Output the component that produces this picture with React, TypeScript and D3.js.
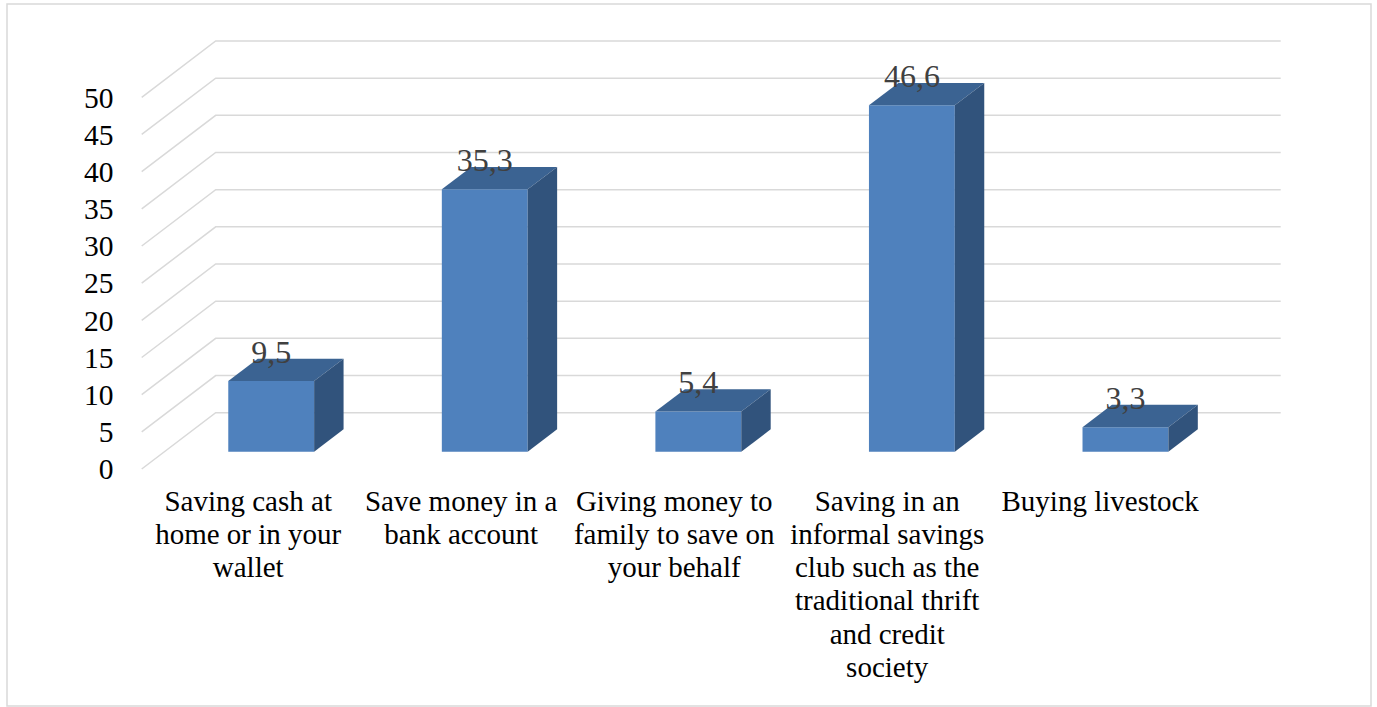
import React from "react";
import * as d3 from "d3";

const categories: string[] = [
  "Saving cash at home or in your wallet",
  "Save money in a bank account",
  "Giving money to family to save on your behalf",
  "Saving in an informal savings club such as the traditional thrift and credit society",
  "Buying livestock",
];
const categoryLines: string[][] = [
  ["Saving cash at", "home or in your", "wallet"],
  ["Save money in a", "bank account"],
  ["Giving money to", "family to save on", "your behalf"],
  ["Saving in an", "informal savings", "club such as the", "traditional thrift", "and credit", "society"],
  ["Buying livestock"],
];
const values: number[] = [9.5, 35.3, 5.4, 46.6, 3.3];
const valueLabels: string[] = ["9,5", "35,3", "5,4", "46,6", "3,3"];
const yTicks: number[] = [0, 5, 10, 15, 20, 25, 30, 35, 40, 45, 50];

const W = 1377;
const H = 707;
const FRONT_LEFT = 141.7;
const FRONT_RIGHT = 1209.5;
const GRID_RIGHT = 1206.7;
const DX = 74;
const DY = 56.3;
const F1 = 0.307;
const F2 = 0.705;
const FONT = "'Liberation Serif', 'Times New Roman', serif";

export default function App() {
  const y = d3.scaleLinear().domain([0, 50]).range([469, 97.3]);
  const xBar = d3
    .scaleBand<string>()
    .domain(categories)
    .range([FRONT_LEFT, FRONT_RIGHT])
    .paddingInner(0.598)
    .paddingOuter(0.299);
  const xCat = d3.scaleBand<string>().domain(categories).range([FRONT_LEFT, GRID_RIGHT]);

  const proj = (x: number, v: number, f: number): [number, number] => [x + f * DX, y(v) - f * DY];
  const line = d3.line();

  return (
    <svg
      width={W}
      height={H}
      style={{ position: "absolute", left: 0, top: 0, background: "#fff" }}
      fontFamily={FONT}
    >
      <rect x={7} y={4} width={1364} height={702} fill="#fff" stroke="#d9d9d9" strokeWidth={1.5} />
      {yTicks.map((t) => (
        <path
          key={"g" + t}
          d={line([proj(FRONT_LEFT, t, 0), proj(FRONT_LEFT, t, 1), proj(GRID_RIGHT, t, 1)]) || ""}
          fill="none"
          stroke="#d9d9d9"
          strokeWidth={1.5}
        />
      ))}
      {categories.map((c, i) => {
        const x0 = xBar(c)!;
        const x1 = x0 + xBar.bandwidth();
        const v = values[i];
        const front = [proj(x0, 0, F1), proj(x1, 0, F1), proj(x1, v, F1), proj(x0, v, F1)];
        const top = [proj(x0, v, F1), proj(x1, v, F1), proj(x1, v, F2), proj(x0, v, F2)];
        const side = [proj(x1, 0, F1), proj(x1, 0, F2), proj(x1, v, F2), proj(x1, v, F1)];
        const poly = (pts: [number, number][]) => (line(pts) || "") + "Z";
        const [cx] = proj((x0 + x1) / 2, v, F1);
        const [, ty] = proj(x0, v, F2);
        return (
          <g key={"b" + i}>
            <path d={poly(front as [number, number][])} fill="#4f81bd" />
            <path d={poly(top as [number, number][])} fill="#3b6392" />
            <path d={poly(side as [number, number][])} fill="#31537c" />
            <text x={cx} y={ty + 4} textAnchor="middle" fontSize={32} fill="#404040">
              {valueLabels[i]}
            </text>
          </g>
        );
      })}
      {yTicks.map((t) => (
        <text
          key={"t" + t}
          x={113.5}
          y={y(t)}
          dy="0.35em"
          textAnchor="end"
          fontSize={29.5}
          fill="#000"
        >
          {t}
        </text>
      ))}
      {categories.map((c, i) => {
        const cx = xCat(c)! + xCat.bandwidth() / 2;
        return (
          <text key={"c" + i} textAnchor="middle" fontSize={29} fill="#000">
            {categoryLines[i].map((ln, j) => (
              <tspan key={j} x={cx} y={510.7 + j * 33.2}>
                {ln}
              </tspan>
            ))}
          </text>
        );
      })}
    </svg>
  );
}
